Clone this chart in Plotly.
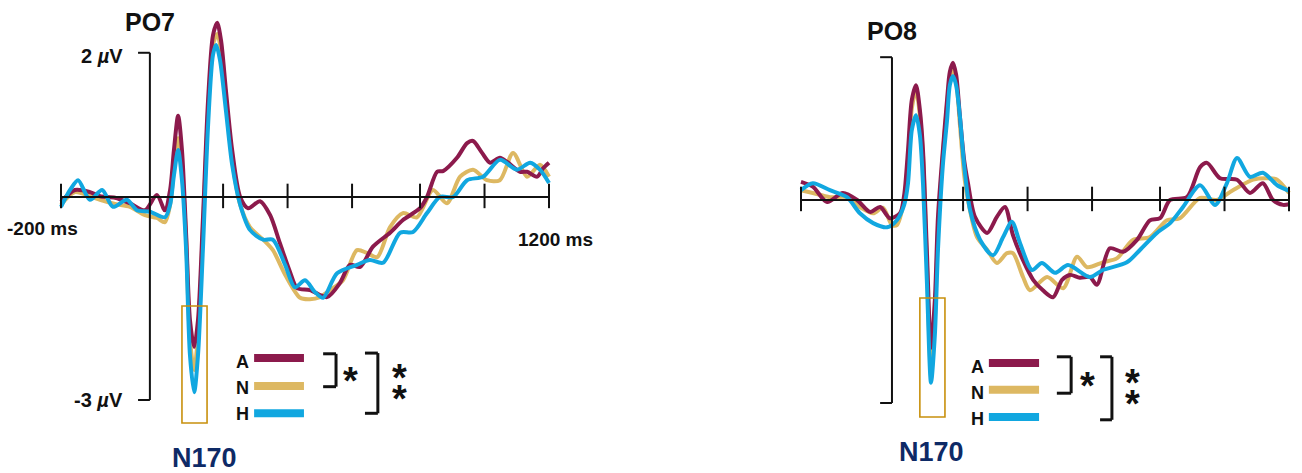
import plotly.graph_objects as go

# ---------------- data (ms, µV) ----------------
PO7_T_A = [-200, -160, -117, -88, -45, -2, 41, 75, 98, 113, 124, 136, 147, 159, 170, 182, 193, 207, 222, 236, 248, 259, 273, 291,
           314, 337, 371, 400, 428, 457, 477, 514, 563, 600, 629, 658, 695, 744, 781, 830, 850, 879, 896, 936, 965, 982, 1008,
           1031, 1059, 1080, 1117, 1137, 1166, 1183, 1200]
PO7_A = [-0.07, 0.10, 0.07, 0.01, -0.01, -0.09, -0.19, 0.03, -0.19, 0.10, 0.67, 1.16, 0.67, -0.54, -1.76, -2.14, -1.76, -0.33,
         1.39, 2.31, 2.49, 2.24, 1.53, 0.67, 0.0, -0.16, -0.06, -0.26, -0.66, -1.07, -1.30, -1.33, -1.43, -1.23, -0.97, -1.00,
         -0.71, -0.51, -0.33, -0.16, 0.0, 0.36, 0.37, 0.56, 0.77, 0.80, 0.63, 0.49, 0.56, 0.50, 0.36, 0.36, 0.29, 0.41, 0.49]

PO7_T_N = [-200, -160, -117, -88, -45, -2, 41, 75, 98, 113, 124, 136, 147, 159, 170, 182, 193, 207, 222, 236, 248, 259, 273, 291,
           314, 342, 380, 408, 443, 486, 514, 543, 572, 609, 649, 678, 707, 744, 781, 821, 867, 907, 945, 982, 1022, 1059, 1097,
           1137, 1174, 1200]
PO7_N = [-0.11, 0.07, 0.01, -0.04, -0.10, -0.14, -0.26, -0.30, -0.36, -0.11, 0.39, 0.84, 0.39, -0.61, -2.04, -2.47, -1.97, -0.47,
         1.24, 2.17, 2.33, 2.10, 1.39, 0.53, -0.11, -0.43, -0.61, -0.76, -1.11, -1.44, -1.46, -1.43, -1.33, -1.19, -0.76, -0.80,
         -0.86, -0.43, -0.23, -0.29, 0.10, -0.09, 0.29, 0.39, 0.24, 0.24, 0.63, 0.29, 0.46, 0.29]

PO7_T_H = [-200, -174, -151, -117, -82, -51, -11, 18, 55, 98, 113, 124, 136, 147, 159, 170, 182, 193, 207, 222, 236, 245, 256,
           273, 291, 314, 342, 380, 408, 443, 471, 500, 529, 552, 592, 649, 686, 724, 773, 810, 850, 887, 925, 965, 1011, 1059,
           1108, 1146, 1174, 1200]
PO7_H = [-0.14, 0.10, 0.24, -0.04, 0.10, -0.14, -0.04, -0.19, -0.21, -0.29, -0.11, 0.31, 0.67, 0.24, -0.76, -2.26, -2.79, -2.26,
         -0.76, 1.03, 2.03, 2.17, 1.96, 1.24, 0.46, -0.11, -0.47, -0.61, -0.61, -0.97, -1.29, -1.19, -1.36, -1.44, -1.09, -0.97,
         -0.90, -0.94, -0.51, -0.50, -0.23, 0.0, 0.0, 0.24, 0.29, 0.53, 0.39, 0.49, 0.39, 0.20]

PO8_T_A = [-200, -166, -125, -80, -39, -2, 27, 55, 84, 96, 107, 118, 130, 141, 150, 161, 173, 184, 193, 207, 219, 227, 236, 245,
           256, 268, 279, 299, 334, 362, 385, 408, 437, 466, 494, 523, 549, 572, 600, 629, 649, 686, 724, 764, 801, 830, 859,
           907, 945, 965, 1002, 1051, 1088, 1125, 1154, 1183, 1200]
PO8_A = [0.26, 0.19, -0.03, 0.10, 0.0, -0.17, -0.10, -0.26, -0.19, 0.07, 0.71, 1.43, 1.64, 1.29, 0.71, -0.71, -2.11, -1.43, -0.24,
         0.71, 1.43, 1.83, 1.96, 1.79, 1.19, 0.57, 0.24, -0.24, -0.47, -0.24, -0.10, -0.50, -0.86, -1.14, -1.29, -1.39, -1.14,
         -1.07, -1.11, -1.10, -1.21, -0.69, -0.74, -0.57, -0.29, -0.26, 0.0, 0.04, 0.47, 0.53, 0.31, 0.29, 0.10, 0.24, 0.0,
         -0.07, -0.06]

PO8_T_N = [-200, -166, -117, -68, -31, 7, 35, 61, 75, 96, 107, 118, 130, 141, 150, 161, 173, 184, 193, 207, 219, 227, 236, 245,
           256, 268, 279, 305, 334, 362, 391, 408, 437, 457, 506, 552, 592, 621, 666, 707, 752, 801, 850, 887, 945, 993, 1039,
           1097, 1137, 1166, 1200]
PO8_N = [0.14, 0.10, 0.04, 0.04, -0.10, -0.19, -0.11, -0.36, -0.36, 0.0, 0.57, 1.31, 1.57, 1.21, 0.64, -0.86, -2.43, -1.71, -0.43,
         0.64, 1.36, 1.74, 1.89, 1.71, 1.07, 0.36, 0.0, -0.53, -0.71, -0.90, -0.76, -0.76, -1.10, -1.29, -1.10, -1.26, -0.81,
         -0.96, -0.89, -0.83, -0.57, -0.53, -0.29, -0.26, 0.03, 0.0, 0.14, 0.29, 0.31, 0.29, 0.10]

PO8_T_H = [-200, -166, -117, -68, -31, 7, 47, 75, 96, 107, 118, 130, 141, 150, 161, 173, 184, 193, 207, 219, 227, 236, 245, 256,
           268, 285, 314, 351, 380, 405, 428, 463, 491, 529, 566, 629, 666, 735, 773, 821, 859, 896, 945, 988, 1022, 1051, 1088,
           1125, 1166, 1200]
PO8_H = [0.14, 0.24, 0.14, 0.04, -0.19, -0.33, -0.39, -0.29, -0.07, 0.24, 1.00, 1.21, 0.93, 0.24, -1.14, -2.61, -1.93, -0.71,
         0.50, 1.14, 1.64, 1.77, 1.64, 1.19, 0.50, -0.14, -0.57, -0.79, -0.53, -0.31, -0.61, -1.00, -0.90, -1.04, -0.93, -1.10,
         -1.00, -0.89, -0.71, -0.47, -0.33, -0.10, 0.21, -0.07, 0.24, 0.60, 0.33, 0.39, 0.21, 0.13]

CONDITIONS = ["A", "N", "H"]
COLORS = {"A": "#8C1A4C", "N": "#DDB862", "H": "#11A7E0"}
TICKS_MS = [-200, 265, 450, 635, 830, 1015, 1200]
SCALE_TOP_UV = 2
SCALE_BOTTOM_UV = -3

FONT = "Liberation Sans, Arial, sans-serif"
BLACK = "#111111"
BOX = "#C8900C"
NAVY = "#0E2A66"

fig = go.Figure()

panels = [
    dict(name="PO7", xa="x", ya="y", data={"A": (PO7_T_A, PO7_A), "N": (PO7_T_N, PO7_N), "H": (PO7_T_H, PO7_H)}),
    dict(name="PO8", xa="x2", ya="y2", data={"A": (PO8_T_A, PO8_A), "N": (PO8_T_N, PO8_N), "H": (PO8_T_H, PO8_H)}),
]

for p in panels:
    for c in ["N", "A", "H"]:
        t, v = p["data"][c]
        fig.add_trace(go.Scatter(x=t, y=v, mode="lines", xaxis=p["xa"], yaxis=p["ya"],
                                 line=dict(color=COLORS[c], width=4, shape="spline", smoothing=0.8),
                                 name=c, showlegend=False, hoverinfo="skip"))

shapes = []
annotations = []


def line(xa, ya, x0, y0, x1, y1, color=BLACK, width=2):
    shapes.append(dict(type="line", xref=xa, yref=ya, x0=x0, y0=y0, x1=x1, y1=y1,
                       line=dict(color=color, width=width)))


def text(xa, ya, x, y, s, size=16, color=BLACK, xanchor="center", yshift=0):
    annotations.append(dict(xref=xa, yref=ya, x=x, y=y, text=s, showarrow=False, xanchor=xanchor,
                            yanchor="middle", yshift=yshift,
                            font=dict(family=FONT, size=size, color=color)))


# panel-specific placement (positions only)
layout_pos = {
    "PO7": dict(yaxis_t=55, serif_t=21, top_v=2.06, bot_v=-2.9, title=(55, 2.5),
                box=(147, 219, -1.557, -3.229), n170=(213, -3.73),
                leg_txt_t=322, leg_line=(354, 497), leg_v=[-2.3, -2.7, -3.09], leg_txt_v=[-2.36, -2.73, -3.1],
                b1=(552, 589, -2.24, -2.71), star1=(630, -2.54),
                b2=(672, 709, -2.23, -3.09), star2=(770, -2.5, -2.8)),
    "PO8": dict(yaxis_t=61, serif_t=27, top_v=2.04, bot_v=-2.9, title=(61, 2.41),
                box=(141, 213, -1.4, -3.1), n170=(173, -3.6),
                leg_txt_t=305, leg_line=(339, 483), leg_v=[-2.33, -2.71, -3.1], leg_txt_v=[-2.39, -2.76, -3.13],
                b1=(534, 575, -2.24, -2.76), star1=(621, -2.57),
                b2=(658, 692, -2.24, -3.14), star2=(752, -2.53, -2.83)),
}

for p in panels:
    xa, ya = p["xa"], p["ya"]
    L = layout_pos[p["name"]]
    # time axis
    line(xa, ya, TICKS_MS[0], 0, TICKS_MS[-1], 0, width=2)
    for tk in TICKS_MS:
        line(xa, ya, tk, 0.19, tk, -0.16, width=2)
    # amplitude scale bracket
    line(xa, ya, L["yaxis_t"], L["top_v"], L["yaxis_t"], L["bot_v"], width=2)
    line(xa, ya, L["serif_t"], L["top_v"], L["yaxis_t"], L["top_v"], width=2)
    line(xa, ya, L["serif_t"], L["bot_v"], L["yaxis_t"], L["bot_v"], width=2)
    # title
    text(xa, ya, L["title"][0], L["title"][1], "<b>%s</b>" % p["name"], size=25)
    # N170 box
    bx0, bx1, by0, by1 = L["box"]
    shapes.append(dict(type="rect", xref=xa, yref=ya, x0=bx0, x1=bx1, y0=by0, y1=by1,
                       line=dict(color=BOX, width=1.6)))
    text(xa, ya, L["n170"][0], L["n170"][1], "<b>N170</b>", size=27, color=NAVY)
    # legend keys
    for c, lv, tv in zip(CONDITIONS, L["leg_v"], L["leg_txt_v"]):
        line(xa, ya, L["leg_line"][0], lv, L["leg_line"][1], lv, color=COLORS[c], width=8)
        text(xa, ya, L["leg_txt_t"], tv, "<b>%s</b>" % c, size=18)
    # significance brackets
    for key in ["b1", "b2"]:
        s0, s1, v0, v1 = L[key]
        line(xa, ya, s1, v0, s1, v1, width=3)
        line(xa, ya, s0, v0, s1, v0, width=3)
        line(xa, ya, s0, v1, s1, v1, width=3)
    text(xa, ya, L["star1"][0], L["star1"][1], "<b>*</b>", size=38, yshift=-6)
    text(xa, ya, L["star2"][0], L["star2"][1], "<b>*</b>", size=38, yshift=-6)
    text(xa, ya, L["star2"][0], L["star2"][2], "<b>*</b>", size=38, yshift=-6)

# scale labels on the PO7 panel
text("x", "y", -16, 2.01, "<b>%d <i>µ</i>V</b>" % SCALE_TOP_UV, size=20, xanchor="right")
text("x", "y", -16, -2.9, "<b>%d <i>µ</i>V</b>" % SCALE_BOTTOM_UV, size=20, xanchor="right")
text("x", "y", -146, -0.45, "<b>%d ms</b>" % TICKS_MS[0], size=19, xanchor="right")
text("x", "y", 1220, -0.61, "<b>%d ms</b>" % TICKS_MS[-1], size=19)

ax_common = dict(visible=False, showgrid=False, zeroline=False, fixedrange=True)
fig.update_layout(
    width=1302, height=473,
    margin=dict(l=0, r=0, t=0, b=0),
    paper_bgcolor="white", plot_bgcolor="white",
    showlegend=False,
    xaxis=dict(domain=[0, 0.5], range=[-375, 1492.6], anchor="y", **ax_common),
    yaxis=dict(domain=[0, 1], range=[-3.943, 2.814], anchor="x", **ax_common),
    xaxis2=dict(domain=[0.5, 1], range=[-630.3, 1237.3], anchor="y2", **ax_common),
    yaxis2=dict(domain=[0, 1], range=[-3.9, 2.857], anchor="x2", **ax_common),
    shapes=shapes,
    annotations=annotations,
)

fig.write_html("out.html", config={"displayModeBar": False},
               post_script="document.body.style.margin='0px';document.body.style.overflow='hidden';")
